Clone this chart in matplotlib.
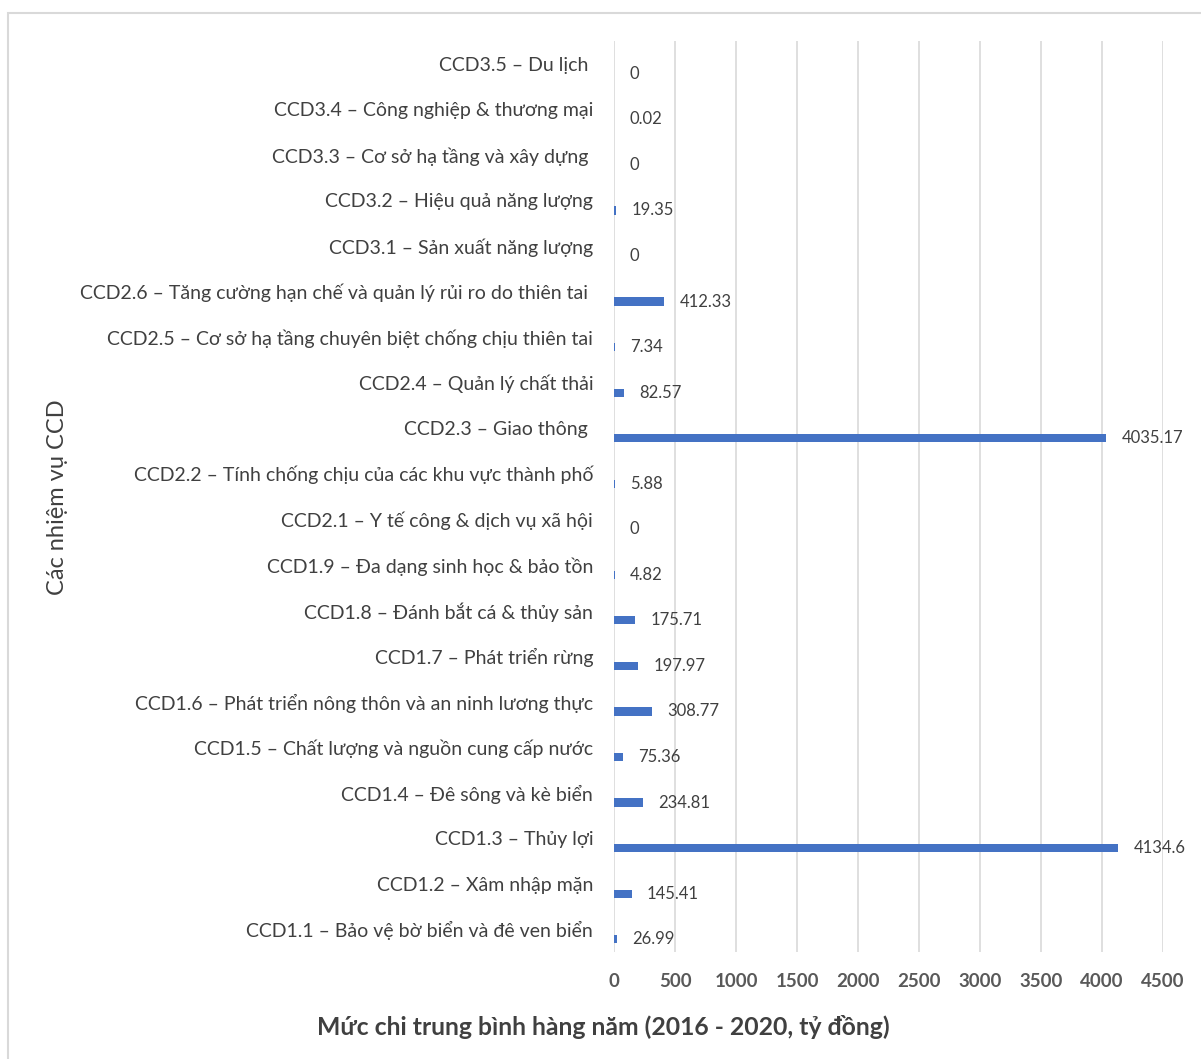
import matplotlib
matplotlib.use("Agg")
import matplotlib.pyplot as plt
from matplotlib.patches import Rectangle
import numpy as np

plt.rcParams['font.family'] = ['Lato', 'Noto Sans', 'DejaVu Sans']

# Categories listed bottom to top
categories = [
    "CCD1.1 – Bảo vệ bờ biển và đê ven biển",
    "CCD1.2 – Xâm nhập mặn",
    "CCD1.3 – Thủy lợi",
    "CCD1.4 – Đê sông và kè biển",
    "CCD1.5 – Chất lượng và nguồn cung cấp nước",
    "CCD1.6 – Phát triển nông thôn và an ninh lương thực",
    "CCD1.7 – Phát triển rừng",
    "CCD1.8 – Đánh bắt cá & thủy sản",
    "CCD1.9 – Đa dạng sinh học & bảo tồn",
    "CCD2.1 – Y tế công & dịch vụ xã hội",
    "CCD2.2 – Tính chống chịu của các khu vực thành phố",
    "CCD2.3 – Giao thông ",
    "CCD2.4 – Quản lý chất thải",
    "CCD2.5 – Cơ sở hạ tầng chuyên biệt chống chịu thiên tai",
    "CCD2.6 – Tăng cường hạn chế và quản lý rủi ro do thiên tai ",
    "CCD3.1 – Sản xuất năng lượng",
    "CCD3.2 – Hiệu quả năng lượng",
    "CCD3.3 – Cơ sở hạ tầng và xây dựng ",
    "CCD3.4 – Công nghiệp & thương mại",
    "CCD3.5 – Du lịch ",
]
values = [26.99, 145.41, 4134.6, 234.81, 75.36, 308.77, 197.97, 175.71, 4.82,
          0, 5.88, 4035.17, 82.57, 7.34, 412.33, 0, 19.35, 0, 0.02, 0]
x_ticks = [0, 500, 1000, 1500, 2000, 2500, 3000, 3500, 4000, 4500]

W, H = 1201, 1059
fig = plt.figure(figsize=(W / 100, H / 100), dpi=100)
fig.patch.set_facecolor("white")

# Outer chart frame
fig.add_artist(Rectangle((8 / W, -0.01), 1.02, 1 - 13 / H + 0.01,
                         transform=fig.transFigure, fill=False,
                         edgecolor="#d9d9d9", linewidth=1.5))

ax = fig.add_axes([614 / W, 1 - 952 / H, (1163 - 614) / W, (952 - 41) / H])

pos = np.arange(len(categories))
bar_offset = -0.22
ax.barh(pos + bar_offset, values, height=0.18, color="#4472C4", zorder=3,
        antialiased=False)

for p, v in zip(pos, values):
    ax.annotate(f"{v:g}", xy=(v, p + bar_offset), xytext=(11, 0),
                textcoords="offset points", ha="left", va="center",
                fontsize=12, color="#404040")

ax.set_xlim(0, 4500)
ax.set_ylim(-0.5, len(categories) - 0.5)
ax.set_xticks(x_ticks)
ax.set_xticklabels([str(t) for t in x_ticks], fontsize=13.5,
                   fontweight="bold", color="#595959")
ax.set_yticks(pos)
ax.set_yticklabels(categories, fontsize=14, color="#404040")
ax.tick_params(axis="y", length=0, pad=15)
ax.tick_params(axis="x", length=0, pad=15)

ax.grid(axis="x", color="#d9d9d9", linewidth=1.2, zorder=0)
ax.set_axisbelow(True)
for s in ax.spines.values():
    s.set_visible(False)

fig.text(603 / W, 1 - 1027 / H,
         "Mức chi trung bình hàng năm (2016 - 2020, tỷ đồng)",
         ha="center", va="center", fontsize=17.8, fontweight="bold",
         color="#404040")
fig.text(58 / W, 1 - 497 / H, "Các nhiệm vụ CCD", rotation=90,
         ha="center", va="center", fontsize=17, color="#404040")

fig.savefig("out.png", dpi=100, facecolor="white")
